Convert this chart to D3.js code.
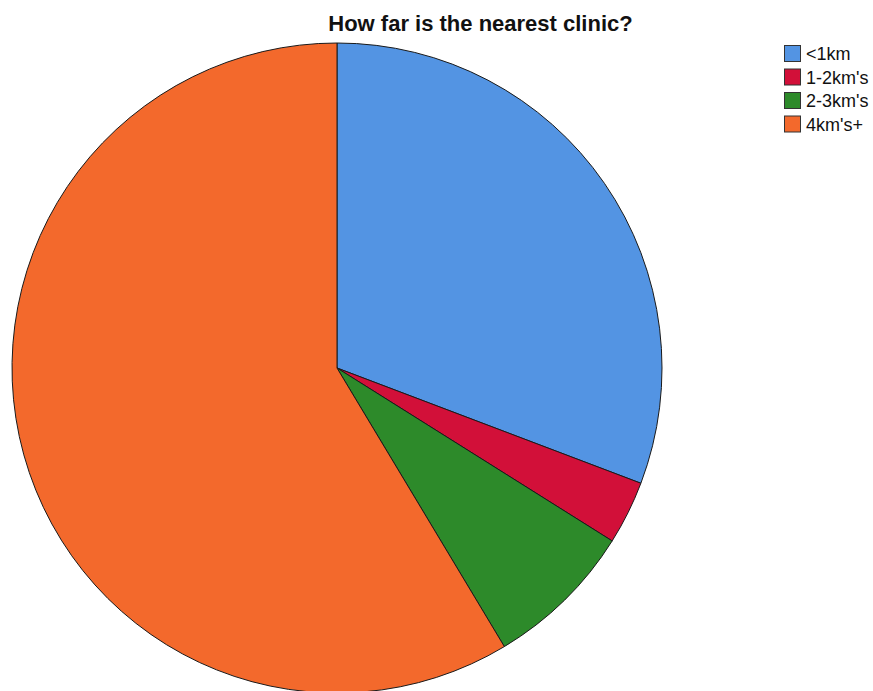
<!DOCTYPE html>
<html>
<head>
<meta charset="utf-8">
<script src="https://cdn.jsdelivr.net/npm/d3@7"></script>
<style>
  html, body { margin: 0; padding: 0; background: #fff; }
  svg { display: block; }
</style>
</head>
<body>
<svg id="chart" width="873" height="691"></svg>
<script>
// Share of respondents by distance to the nearest clinic (percent)
const categories = ["<1km", "1-2km's", "2-3km's", "4km's+"];
const values = [30.77, 3.16, 7.46, 58.61];
const colors = ["#5394E3", "#D21039", "#2D8A2A", "#F3692C"];
const title = "How far is the nearest clinic?";

const svg = d3.select("#chart");
const cx = 337, cy = 368, radius = 325;

const color = d3.scaleOrdinal().domain(categories).range(colors);

const pie = d3.pie().sort(null).value(d => d.value);
const arc = d3.arc().innerRadius(0).outerRadius(radius);

const data = categories.map((c, i) => ({ cat: c, value: values[i] }));

svg.append("g")
  .attr("transform", `translate(${cx},${cy})`)
  .selectAll("path")
  .data(pie(data))
  .join("path")
  .attr("d", arc)
  .attr("fill", d => color(d.data.cat))
  .attr("stroke", "#1a1a1a")
  .attr("stroke-width", 1);

svg.append("text")
  .attr("x", 480.5)
  .attr("y", 31)
  .attr("text-anchor", "middle")
  .attr("font-family", "Liberation Sans, Arial, sans-serif")
  .attr("font-weight", "bold")
  .attr("font-size", 22)
  .attr("fill", "#111")
  .text(title);

// Legend
const legend = svg.append("g").attr("transform", "translate(784,45)");
const rowH = 23.5;
const item = legend.selectAll("g")
  .data(categories)
  .join("g")
  .attr("transform", (d, i) => `translate(0,${i * rowH})`);

item.append("rect")
  .attr("x", 0.5).attr("y", 0.5)
  .attr("width", 16).attr("height", 16)
  .attr("fill", d => color(d))
  .attr("stroke", "#333")
  .attr("stroke-width", 1);

item.append("text")
  .attr("x", 22)
  .attr("y", 15)
  .attr("font-family", "Liberation Sans, Arial, sans-serif")
  .attr("font-size", 18)
  .attr("fill", "#111")
  .text(d => d);
</script>
</body>
</html>
